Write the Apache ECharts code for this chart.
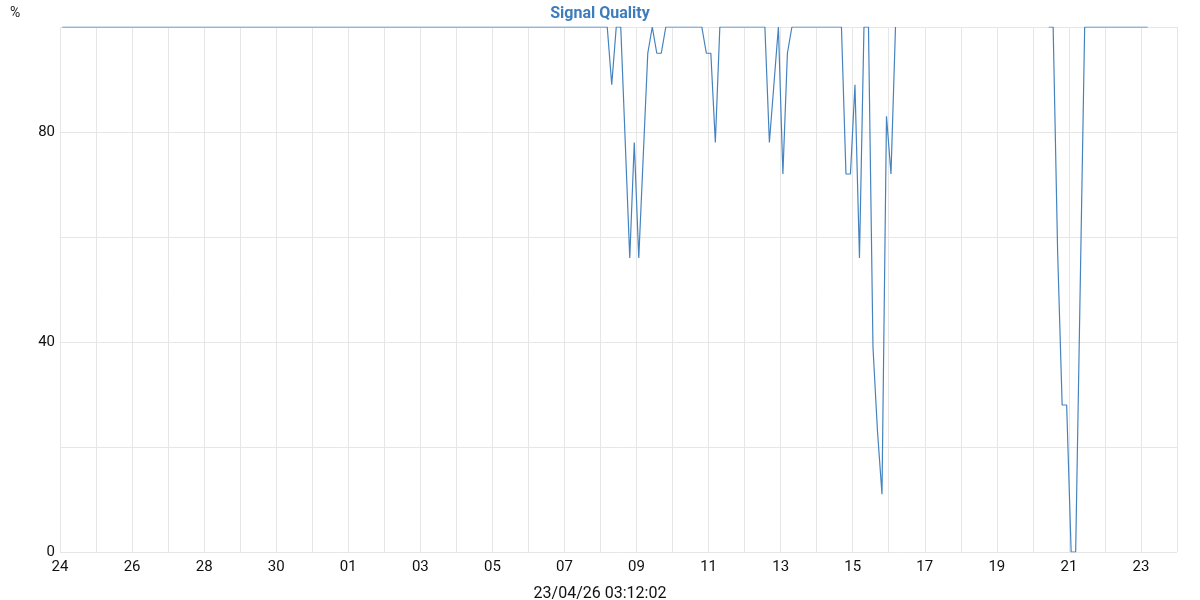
<!DOCTYPE html>
<html>
<head>
<meta charset="utf-8">
<title>Signal Quality</title>
<script src="https://cdn.jsdelivr.net/npm/echarts@6/dist/echarts.min.js"></script>
<style>
    html, body { margin: 0; padding: 0; background: #fff; }
    #chart { width: 1200px; height: 600px; }
</style>
</head>
<body>
<div id="chart"></div>
<script>
// 采样时间 (UTC, 2026年), null 表示断开
const times = [
    '03-24 01:30',
    '04-08 04:30', '04-08 07:30', '04-08 10:30', '04-08 13:30', '04-08 19:30', '04-08 22:30',
    '04-09 01:30', '04-09 07:30', '04-09 10:30', '04-09 13:30', '04-09 16:30', '04-09 19:30',
    '04-10 19:30', '04-10 22:30', '04-11 01:30', '04-11 04:30', '04-11 07:30',
    '04-12 13:30', '04-12 16:30', '04-12 22:30', '04-13 01:30', '04-13 04:30', '04-13 07:30',
    '04-14 16:30', '04-14 19:30', '04-14 22:30', '04-15 01:30', '04-15 04:30', '04-15 07:30',
    '04-15 10:30', '04-15 13:30', '04-15 16:30', '04-15 19:30', '04-15 22:30', '04-16 01:30',
    '04-16 04:30',
    '04-18 00:00',
    '04-20 10:30', '04-20 13:30', '04-20 16:30', '04-20 19:30', '04-20 22:30',
    '04-21 01:30', '04-21 04:30', '04-21 10:30', '04-23 04:30'
];
const quality = [
    100,
    100, 89, 100, 100, 56, 78,
    56, 95, 100, 95, 95, 100,
    100, 95, 95, 78, 100,
    100, 78, 100, 72, 95, 100,
    100, 72, 72, 89, 56, 100,
    100, 39, 23, 11, 83, 72,
    100,
    null,
    100, 100, 57, 28, 28,
    0, 0, 100, 100
];
const yLabels = [0, 40, 80];
const stamp = '23/04/26 03:12:02';

const DAY = 86400000;
const start = Date.parse('2026-03-24T00:00:00Z');
const end = Date.parse('2026-04-24T00:00:00Z');

function toMs(s) {
    return Date.parse('2026-' + s.replace(' ', 'T') + ':00Z');
}

const seriesData = times.map((t, i) => [toMs(t), quality[i] === null ? '-' : quality[i]]);

const chart = echarts.init(document.getElementById('chart'));
const option = {
    animation: false,
    textStyle: { fontFamily: 'Roboto' },
    title: [
        {
            text: 'Signal Quality',
            left: 'center',
            top: 1,
            textStyle: { color: '#3d7dbd', fontSize: 16, fontWeight: 'bold', fontFamily: 'Roboto' }
        },
        {
            text: '%',
            left: 5,
            top: 1,
            textStyle: { color: '#222', fontSize: 14, fontWeight: 'normal', fontFamily: 'Roboto' }
        }
    ],
    grid: { left: 60, right: 23, top: 27, bottom: 48, outerBoundsMode: 'none' },
    xAxis: {
        type: 'value',
        min: start,
        max: end,
        interval: DAY,
        name: stamp,
        nameLocation: 'middle',
        nameGap: 34,
        nameTextStyle: { color: '#111', fontSize: 16, fontFamily: 'Roboto', padding: [0, 37, 0, 0] },
        axisLine: { show: false },
        axisTick: { show: false },
        axisLabel: {
            color: '#111',
            fontSize: 15,
            margin: 8,
            showMaxLabel: false,
            formatter: function (v) {
                const n = Math.round((v - start) / DAY);
                if (n % 2 !== 0 || v >= end) return '';
                const d = new Date(v).getUTCDate();
                return (d < 10 ? '0' : '') + d;
            }
        },
        splitLine: { show: true, lineStyle: { color: '#e6e6e6', width: 1 } }
    },
    yAxis: {
        type: 'value',
        min: 0,
        max: 100,
        interval: 20,
        axisLine: { show: false },
        axisTick: { show: false },
        axisLabel: {
            color: '#111',
            fontSize: 15,
            margin: 5,
            formatter: function (v) {
                return yLabels.indexOf(v) >= 0 ? String(v) : '';
            }
        },
        splitLine: { show: true, lineStyle: { color: '#e6e6e6', width: 1 } }
    },
    series: [{
        name: 'Signal Quality',
        type: 'line',
        data: seriesData,
        showSymbol: false,
        connectNulls: false,
        lineStyle: { color: '#4583bf', width: 1.2 },
        itemStyle: { color: '#4583bf' }
    }]
};
chart.setOption(option);

window.addEventListener('resize', function () {
    chart.resize();
});
</script>
</body>
</html>
